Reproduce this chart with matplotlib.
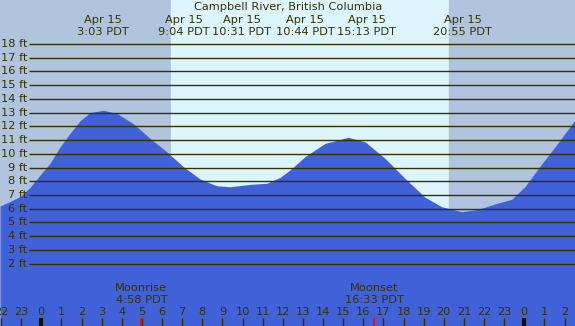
import matplotlib.pyplot as plt

# tide height (ft), hours relative to midnight Apr 15
hours = [-2.05, -1.06, -0.56, -0.06, 0.43, 0.93, 1.43, 1.92, 2.42, 3.08, 3.75,
         4.57, 5.40, 6.23, 7.06, 7.89, 8.72, 9.39, 10.37, 11.20, 11.86, 12.36,
         13.10, 14.10, 15.25, 16.08, 17.08, 18.07, 19.07, 19.90, 20.89, 21.71,
         22.54, 23.37, 24.03, 24.70, 25.53, 26.52]
heights = [6.19, 6.87, 7.55, 8.45, 9.30, 10.50, 11.50, 12.40, 13.00, 13.17, 12.95,
           12.20, 11.13, 10.15, 9.06, 8.16, 7.67, 7.60, 7.77, 7.85, 8.28, 8.82,
           9.79, 10.76, 11.20, 10.88, 9.67, 8.21, 6.83, 6.14, 5.78, 5.95,
           6.34, 6.68, 7.60, 8.94, 10.51, 12.46]

sunrise = 6.44
sunset = 20.26
moon_events = [('Moonrise', '4:58 PDT', 4.97), ('Moonset', '16:33 PDT', 16.55)]

# top labels (placed where the chart puts them, shifted to avoid overlap)
top_labels = ['3:03 PDT', '9:04 PDT', '10:31 PDT', '10:44 PDT', '15:13 PDT', '20:55 PDT']
top_label_pos = [3.07, 7.09, 9.97, 13.10, 16.18, 20.93]

ft_levels = list(range(2, 19))
hour_ticks = list(range(-2, 27))

txt = '#333300'
fs = 8.2
x0, x1 = -2.052, 26.52
y0, y1 = -2.55, 21.21

fig = plt.figure(figsize=(5.75, 3.26), dpi=100)
ax = fig.add_axes([0, 0, 1, 1])
ax.set_xlim(x0, x1)
ax.set_ylim(y0, y1)
ax.axis('off')

ax.axvspan(x0, sunrise, color='#b0c4de', zorder=0)
ax.axvspan(sunrise, sunset, color='#ddf6fe', zorder=0)
ax.axvspan(sunset, x1, color='#b0c4de', zorder=0)

ax.fill_between(hours, heights, y0, color='#4161d8', lw=0, zorder=1)

grid_start = -0.61
ax.hlines(ft_levels, grid_start, x1, color=txt, lw=1.0, zorder=2)
for f in ft_levels:
    ax.text(grid_start - 0.08, f, f'{f} ft', ha='right', va='center',
            fontsize=fs, color=txt, zorder=3)

ax.text(12.25, 20.68, 'Campbell River, British Columbia', ha='center',
        va='center', fontsize=fs, color=txt)
for lab, xp in zip(top_labels, top_label_pos):
    ax.text(xp, 19.72, 'Apr 15', ha='center', va='center', fontsize=fs, color=txt)
    ax.text(xp, 18.88, lab, ha='center', va='center', fontsize=fs, color=txt)

# hour axis along the bottom
for h in hour_ticks:
    ax.text(h, -1.55, str(h % 24), ha='center', va='center', fontsize=fs, color=txt)
    lw = 3 if h % 24 == 0 else 1
    ax.vlines(h, y0, -1.97, color=txt if h % 24 else '#111100', lw=lw, zorder=3)

for name, t, h in moon_events:
    ax.text(h, 0.2, name, ha='center', va='center', fontsize=fs, color=txt)
    ax.text(h, -0.68, t, ha='center', va='center', fontsize=fs, color=txt)
    ax.vlines(h, y0, -1.97, color='red', lw=1.2, zorder=4)

plt.savefig('out.png', dpi=100)
